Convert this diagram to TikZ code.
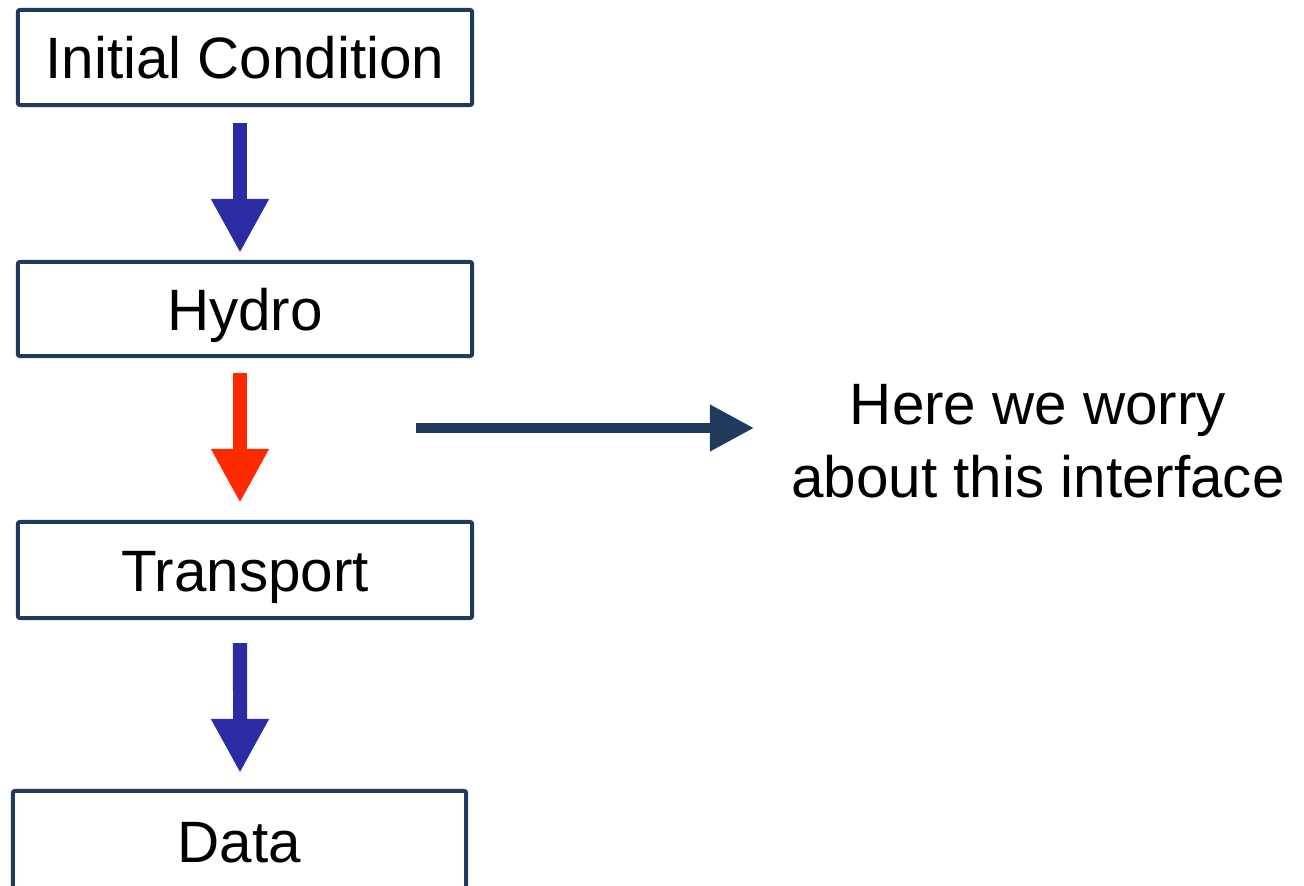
\documentclass[tikz,border=0pt]{standalone}
\usepackage{fontspec}
\setmainfont{Liberation Sans}
\usetikzlibrary{arrows.meta}
\definecolor{boxnavy}{HTML}{213A5C}
\definecolor{arrblue}{HTML}{2B2BA3}
\definecolor{arrred}{HTML}{FF2A00}
\definecolor{arrnavy}{HTML}{1F3A5C}
\tikzset{
  stagebox/.style={draw=boxnavy, line width=0.04cm, rounded corners=0.02cm, fill=white,
    minimum width=4.54cm, inner sep=0pt, text height=0.42cm, text depth=0pt,
    font=\fontsize{16.6}{20}\selectfont},
  flowarrow/.style={line width=0.14cm, -{Triangle[length=0.54cm,width=0.54cm]}},
  notearrow/.style={draw=arrnavy, line width=0.10cm, -{Triangle[length=0.44cm,width=0.44cm]}},
  notetext/.style={align=center, inner sep=0pt, font=\fontsize{16.6}{20.8}\selectfont}
}
\begin{document}
\begin{tikzpicture}[x=0.01cm,y=-0.01cm]
\useasboundingbox (0,0) rectangle (1304,886);
\clip (0,0) rectangle (1304,886);
\node[stagebox, minimum height=0.95cm] (ic) at (245,57.5) {Initial Condition};
\node[stagebox, minimum height=0.94cm] (hy) at (245,309) {Hydro};
\node[stagebox, minimum height=0.96cm] (tr) at (245,570) {Transport};
\node[stagebox, minimum width=4.53cm, minimum height=1.00cm] (da) at (239.5,841) {Data};
\draw[flowarrow, draw=arrblue] ([xshift=-0.05cm,yshift=-0.16cm]ic.south) -- ([xshift=-0.05cm,yshift=0.07cm]hy.north);
\draw[flowarrow, draw=arrred] ([xshift=-0.05cm,yshift=-0.15cm]hy.south) -- ([xshift=-0.05cm,yshift=0.17cm]tr.north);
\draw[flowarrow, draw=arrblue] ([xshift=-0.05cm,yshift=-0.23cm]tr.south) -- ([xshift=0.005cm,yshift=0.16cm]da.north);
\node[notetext] (note) at (1038,441) {Here we worry\\about this interface};
\coordinate (nstart) at (416,428);
\coordinate (nend) at (754,428);
\draw[notearrow] (nstart) -- (nend);
\end{tikzpicture}
\end{document}
